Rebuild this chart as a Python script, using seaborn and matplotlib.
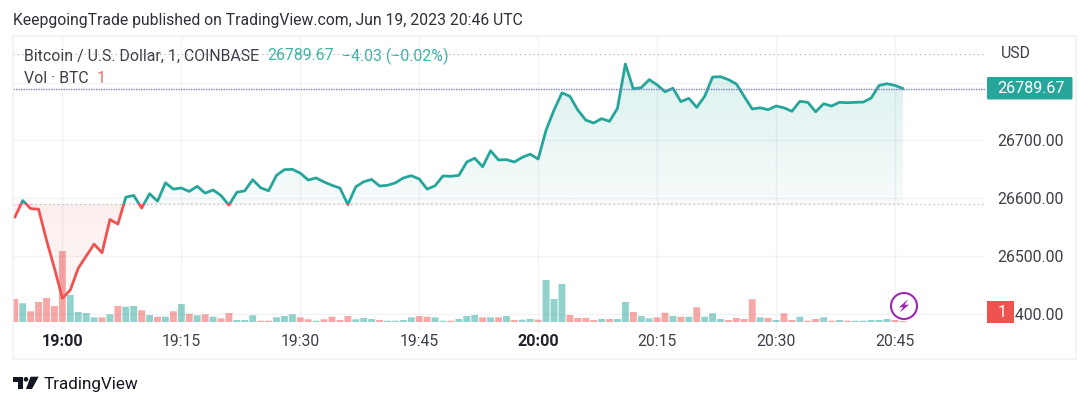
import numpy as np
import pandas as pd
import seaborn as sns
import matplotlib
matplotlib.use("Agg")
import matplotlib.pyplot as plt
from matplotlib.patches import Rectangle, Circle, Polygon, FancyBboxPatch

# ---------- data ----------
close = [26566.8, 26595.6, 26581.7, 26580.7, 26527.1, 26478.5, 26426.4, 26440.8, 26478.5, 26499.4,
         26520.2, 26505.3, 26562.9, 26554.9, 26601.6, 26604.5, 26582.7, 26607.5, 26594.6, 26626.4,
         26615.5, 26617.4, 26611.5, 26620.4, 26608.5, 26614, 26604.5, 26587.7, 26610, 26612.5,
         26631.8, 26617.9, 26612.5, 26639.3, 26649.2, 26649.7, 26643.2, 26631.3, 26634.8, 26627.9,
         26622.1, 26617.4, 26588.7, 26619.4, 26628.3, 26632.3, 26620.9, 26622.1, 26626.4, 26634.8,
         26638.8, 26633, 26615.5, 26621.4, 26638.3, 26637.7, 26639.3, 26662.5, 26669, 26654.1,
         26681.9, 26666, 26666.5, 26662.5, 26670.6, 26676, 26667.6, 26717.6, 26752.4, 26782.1,
         26776.2, 26752.4, 26735.1, 26730, 26737.5, 26732.9, 26755.3, 26832.1, 26789.1, 26791.1,
         26805, 26796, 26784.1, 26790.1, 26766.9, 26772.7, 26757.1, 26776.2, 26809.6, 26810.1,
         26805, 26797.5, 26775.5, 26754.2, 26756.3, 26753, 26759.3, 26756.3, 26750.2, 26767.5,
         26765.8, 26749.4, 26763.3, 26759.3, 26765.8, 26765.1, 26765.8, 26766.2, 26773.2, 26795,
         26798, 26795, 26789.67]
volume = [23, 18.7, 10.7, 20, 24, 16, 71, 27, 10, 9,
          4.7, 4.7, 7.7, 16, 15.3, 16, 11.7, 7, 5.3, 5.3,
          10.7, 18, 8.3, 6.7, 7.7, 5.3, 3.7, 9, 2, 2,
          6.7, 1.3, 1.3, 4.7, 6, 7.7, 4.7, 2.7, 1.3, 2.7,
          5.3, 2, 6, 2.7, 4, 3, 2, 1.3, 1.3, 2,
          4.7, 6, 5.3, 4.7, 1.3, 1.3, 3, 6, 7, 4.7,
          4.7, 4.7, 6, 2, 2.3, 3, 2.3, 42, 23, 38,
          7, 4, 4, 2, 3, 3, 3, 20, 10, 6,
          3.7, 4.7, 9.3, 6, 5.3, 5.3, 14.7, 5.3, 8.7, 3,
          2, 4, 3, 22.7, 4.7, 4, 2, 8.7, 2, 5.3,
          1.3, 3, 4.7, 1.3, 2, 1.3, 1.3, 1.3, 2, 2,
          3, 2, 1]
minute = list(range(len(close)))            # minutes since 18:54
direction = ["down"] + ["up" if b > a else "down" for a, b in zip(close, close[1:])]

x_ticks = [6, 21, 36, 51, 66, 81, 96, 111]
x_labels = ["19:00", "19:15", "19:30", "19:45", "20:00", "20:15", "20:30", "20:45"]
x_bold = ["19:00", "20:00"]
y_ticks = [26400, 26500, 26600, 26700, 26800]
baseline = 26589.7
session_high = 26850.3
last_price = 26789.67

UP, DOWN = "#26a69a", "#ef5350"
TXT = "#3d404a"

# ---------- layout ----------
W, H = 1090, 407
sns.set_theme(style="white")
plt.rcParams["font.family"] = ["Roboto", "DejaVu Sans"]
fig = plt.figure(figsize=(W / 100, H / 100), dpi=100, facecolor="white")

L, R, T, B = 13, 985, 36, 332
pos = [L / W, 1 - B / H, (R - L) / W, (B - T) / H]
xlim = (-0.227, 122.35)
ylim = (26368.1, 26880.6)

axv = fig.add_axes(pos, zorder=1)
ax = fig.add_axes(pos, zorder=2)
ax.patch.set_visible(False)

# ---------- volume ----------
sns.barplot(x=minute, y=volume, hue=direction, palette={"up": UP, "down": DOWN},
            native_scale=True, dodge=False, saturation=1, alpha=0.5,
            errorbar=None, legend=False, linewidth=0, edgecolor="none", ax=axv)
for p in axv.patches:
    centre = p.get_x() + p.get_width() / 2
    p.set_width(0.87)
    p.set_x(centre - 0.435)
    p.set_linewidth(0)
    p.set_edgecolor("none")
    p.set_snap(False)
axv.set_xlim(xlim)
axv.set_ylim(-10, 286)
axv.axis("off")

# ---------- gradient fills ----------
outline = ax.fill_between(minute, close, baseline, color="none", lw=0)
clip = outline.get_paths()[0]

def gradient(color, a_top, a_bottom, y0, y1):
    rgba = np.zeros((256, 1, 4))
    rgba[..., :3] = matplotlib.colors.to_rgb(color)
    rgba[..., 3] = np.linspace(a_top, a_bottom, 256)[:, None]
    im = ax.imshow(rgba, extent=(xlim[0], xlim[1], y0, y1), origin="upper",
                   aspect="auto", interpolation="bilinear", zorder=1)
    im.set_clip_path(clip, transform=ax.transData)

gradient(UP, 0.17, 0.04, baseline, max(close))
gradient(DOWN, 0.10, 0.04, min(close), baseline)

# ---------- price line, green above the baseline, red below ----------
for col, lo, hi in [(UP, baseline, ylim[1]), (DOWN, ylim[0], baseline)]:
    sns.lineplot(x=minute, y=close, color=col, lw=2.0, estimator=None, sort=False,
                 ax=ax, zorder=4, solid_joinstyle="round", solid_capstyle="round")
    box = Rectangle((xlim[0], lo), xlim[1] - xlim[0], hi - lo, transform=ax.transData)
    ax.lines[-1].set_clip_path(box)

ax.axhline(baseline, color="#a3a6af", lw=0.8, ls=(0, (1, 3)), zorder=3)
ax.axhline(session_high, color="#a3a6af", lw=0.8, ls=(0, (1, 3)), zorder=3)
ax.axhline(last_price, color="#7a80c0", lw=1.0, ls=(0, (1, 0.8)), zorder=5)

# ---------- axes ----------
ax.set_xlim(xlim)
ax.set_ylim(ylim)
ax.set_xticks(x_ticks, x_labels)
ax.set_yticks(y_ticks, [f"{v:.2f}" for v in y_ticks])
ax.yaxis.tick_right()
ax.set_xlabel("")
ax.set_ylabel("")
ax.grid(True, color="#2a3a6a", alpha=0.06, lw=1)
ax.set_axisbelow(True)
for s in ax.spines.values():
    s.set_visible(False)
ax.tick_params(axis="x", length=0, pad=1.8, labelsize=11.3, labelcolor=TXT)
ax.tick_params(axis="y", length=0, pad=9, labelsize=11.4, labelcolor=TXT)
for t in ax.get_xticklabels():
    if t.get_text() in x_bold:
        t.set_fontweight("bold")
        t.set_color("#1f222b")
        t.set_fontsize(11.6)

# ---------- chrome overlay, in pixels ----------
ov = fig.add_axes([0, 0, 1, 1], zorder=5)
ov.set_xlim(0, W)
ov.set_ylim(H, 0)
ov.axis("off")
ov.patch.set_visible(False)

ov.add_patch(Rectangle((13, 35.5), 1063, 323.5, fill=False, ec="#eff1f7", lw=1.1))
ov.text(13, 20, "KeepgoingTrade published on TradingView.com, Jun 19, 2023 20:46 UTC",
        fontsize=11.38, color="#2e3038", va="center", ha="left")
ov.text(24, 56, "Bitcoin / U.S. Dollar, 1, COINBASE", fontsize=11.4, color=TXT, va="center")
ov.text(267, 56, "26789.67", fontsize=11.4, color="#3eb3a7", va="center")
ov.text(342, 56, "\u22124.03 (\u22120.02%)", fontsize=11.4, color="#3eb3a7", va="center")
ov.text(24, 78.5, "Vol \u00b7 BTC", fontsize=11.4, color=TXT, va="center")
ov.text(97, 78.5, "1", fontsize=11.4, color="#f0706d", va="center")
ov.text(1001, 53.5, "USD", fontsize=11.4, color=TXT, va="center")

ov.add_patch(FancyBboxPatch((987, 77), 85.5, 22.5, boxstyle="round,pad=0,rounding_size=1.5",
                            fc="#26a69a", ec="none"))
ov.text(1031, 88.7, "26789.67", fontsize=11.6, color="white", va="center", ha="center")
ov.add_patch(Rectangle((987, 301), 26.5, 21.7, fc=DOWN, ec="none"))
ov.text(1002, 312.5, "1", fontsize=11.4, color="white", va="center", ha="center")

# lightning marker
cx, cy = 904, 306
ov.add_patch(Circle((cx, cy), 13, fc="white", ec="#9c27b0", lw=1.5))
bolt = [(4, -6.7), (-5, 1.3), (-1, 1.3), (-4.3, 6.7), (5, -1.3), (0.7, -1.3)]
ov.add_patch(Polygon([(cx + a, cy + b) for a, b in bolt], fc="#9c27b0", ec="none"))

# logo
ov.add_patch(Polygon([(13, 376.7), (23, 376.7), (23, 389), (18, 389), (18, 381.7), (13, 381.7)],
                     fc="#131722", ec="none"))
ov.add_patch(Circle((26, 379.3), 2.3, fc="#131722", ec="none"))
ov.add_patch(Polygon([(30.5, 376.7), (38.7, 376.7), (32, 389), (26, 389)], fc="#131722", ec="none"))
ov.text(44, 384, "TradingView", fontsize=12.3, color="#131722", va="center")

fig.savefig("out.png", dpi=100)
